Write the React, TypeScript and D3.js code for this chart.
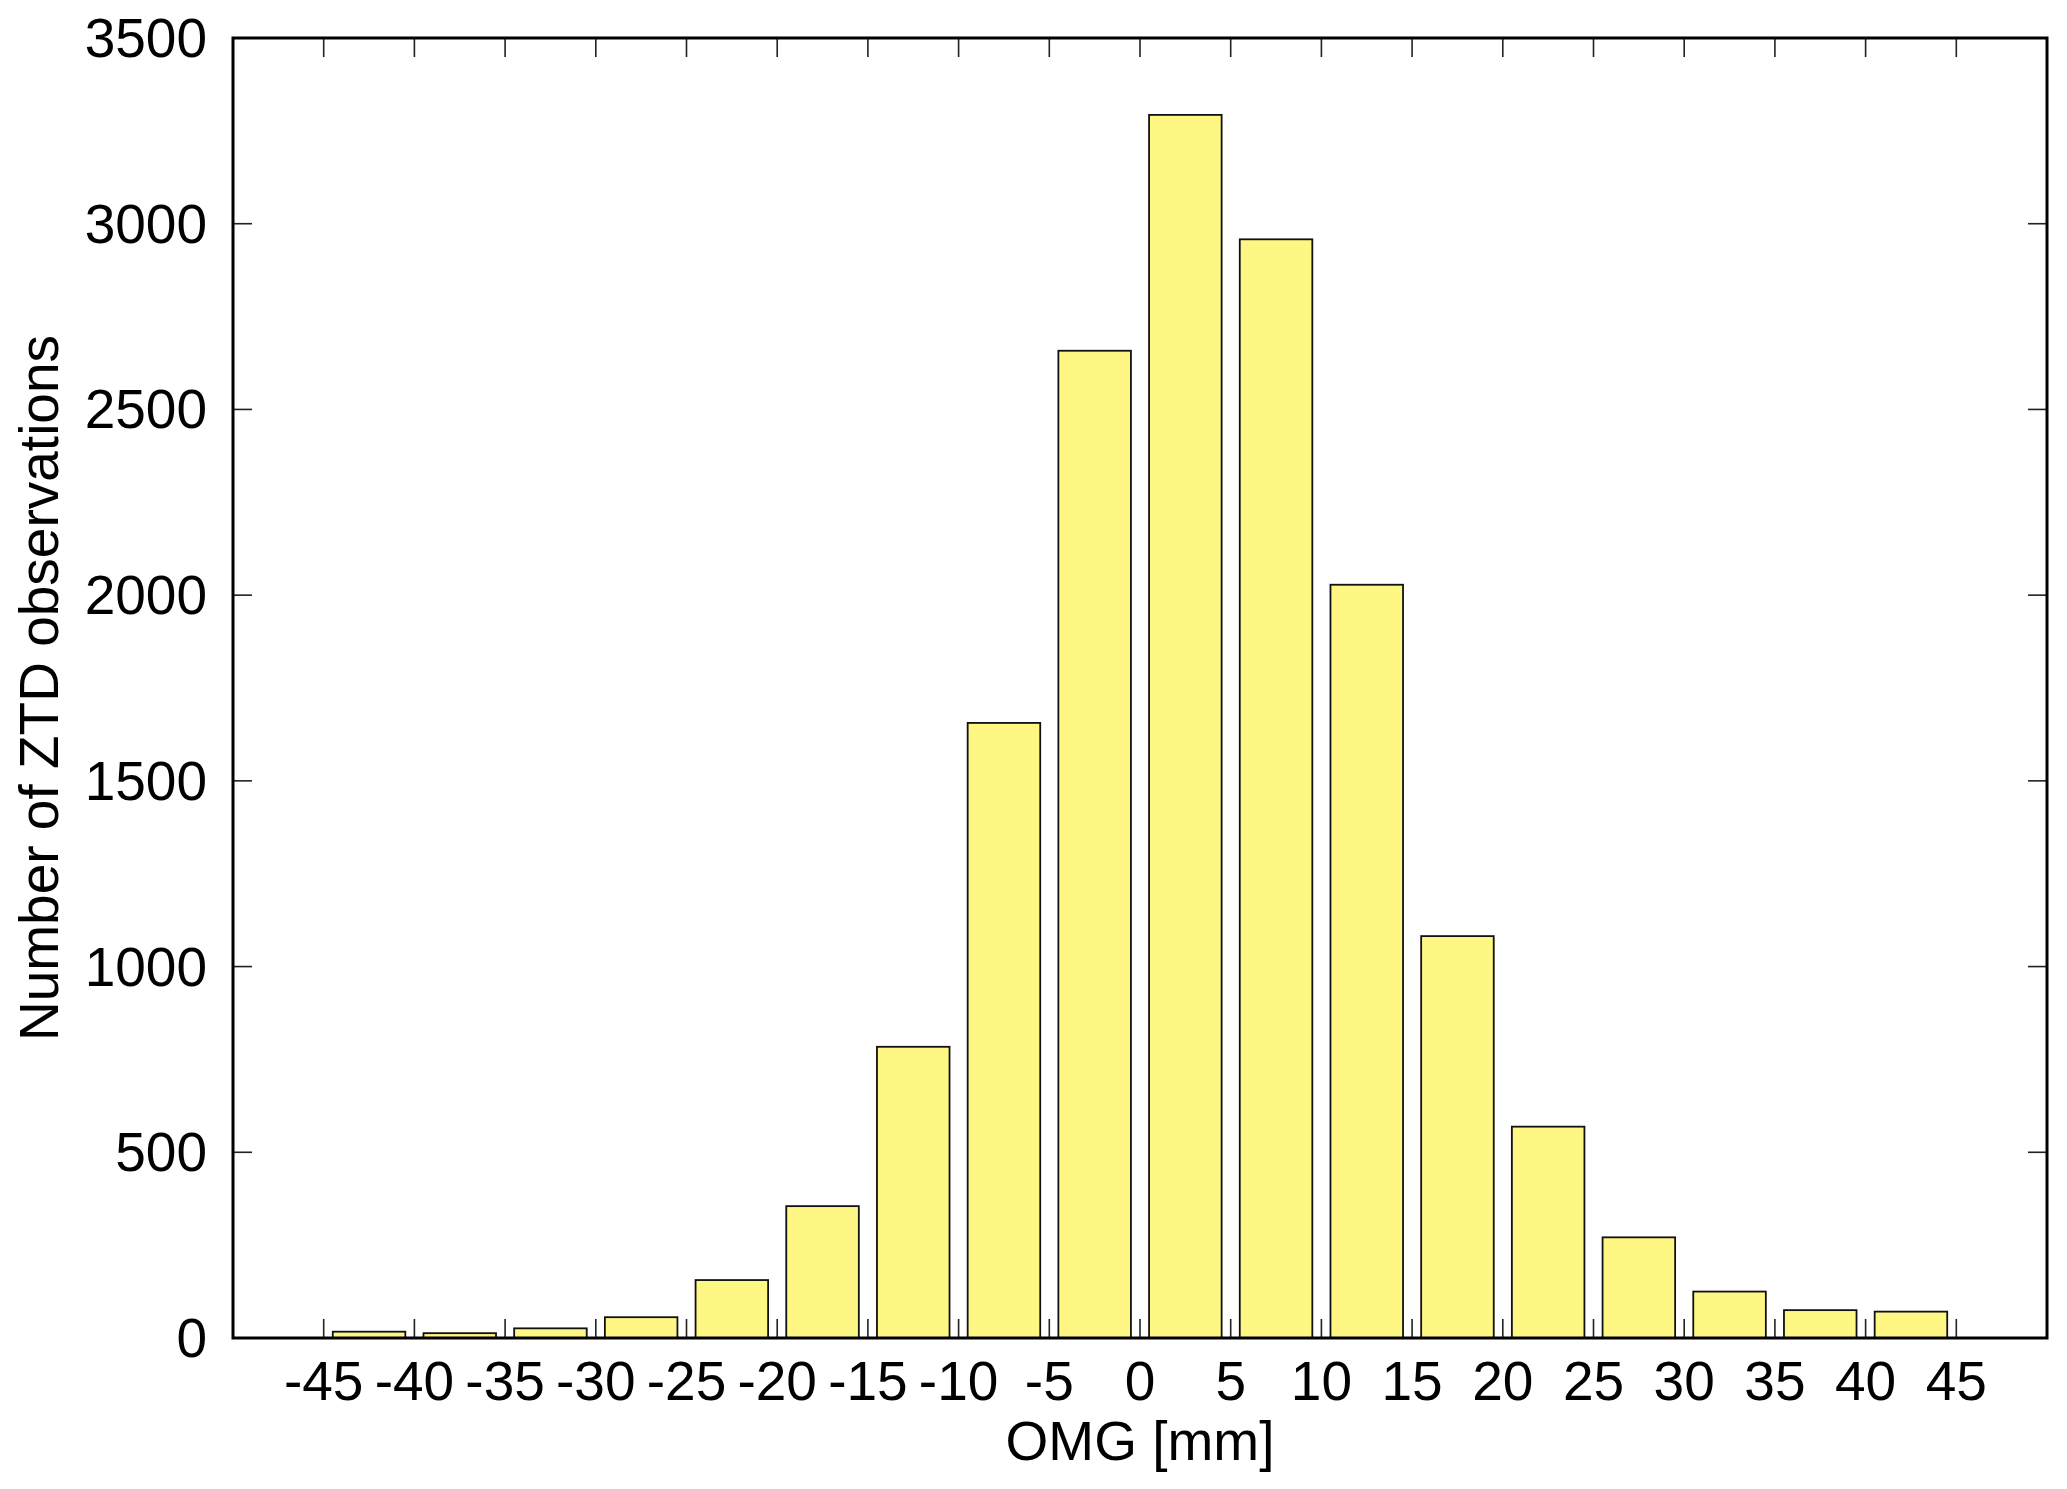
import React from "react";
import * as d3 from "d3";

const binStarts = [-45, -40, -35, -30, -25, -20, -15, -10, -5, 0, 5, 10, 15, 20, 25, 30, 35, 40];
const counts = [17, 13, 26, 56, 156, 355, 784, 1656, 2658, 3293, 2958, 2028, 1082, 569, 271, 125, 75, 71];
const binWidth = 5;
const xTickValues = [-45, -40, -35, -30, -25, -20, -15, -10, -5, 0, 5, 10, 15, 20, 25, 30, 35, 40, 45];
const yTickValues = [0, 500, 1000, 1500, 2000, 2500, 3000, 3500];
const xTitle = "OMG [mm]";
const yTitle = "Number of ZTD observations";

const W = 2067;
const H = 1489;
const M = { left: 233, right: 2047, top: 38, bottom: 1338 };
const FONT = "'Liberation Sans', Arial, Helvetica, sans-serif";
const FS = 55;

export default function App() {
  const x = d3.scaleLinear().domain([-50, 50]).range([M.left, M.right]);
  const y = d3.scaleLinear().domain([0, 3500]).range([M.bottom, M.top]);
  const tickLen = 19;
  const barFrac = 0.8;

  return (
    <svg
      width={W}
      height={H}
      style={{ position: "absolute", left: 0, top: 0, background: "#fff" }}
      fontFamily={FONT}
    >
      <rect x={0} y={0} width={W} height={H} fill="#fff" />
      {/* bars */}
      {binStarts.map((b, i) => {
        const x0 = x(b);
        const x1 = x(b + binWidth);
        const w = (x1 - x0) * barFrac;
        const bx = x0 + ((x1 - x0) - w) / 2;
        return (
          <rect
            key={b}
            x={bx}
            y={y(counts[i])}
            width={w}
            height={y(0) - y(counts[i])}
            fill="#fff783"
            stroke="#111"
            strokeWidth={1.8}
          />
        );
      })}
      {/* x ticks (bottom and top, inward) */}
      {xTickValues.map((t) => (
        <g key={"xt" + t}>
          <line x1={x(t)} x2={x(t)} y1={M.bottom} y2={M.bottom - tickLen} stroke="#222" strokeWidth={1.6} />
          <line x1={x(t)} x2={x(t)} y1={M.top} y2={M.top + tickLen} stroke="#222" strokeWidth={1.6} />
          <text x={x(t)} y={M.bottom + 62} fontSize={FS} textAnchor="middle" fill="#000">
            {t}
          </text>
        </g>
      ))}
      {/* y ticks (left and right, inward) */}
      {yTickValues.map((t) => (
        <g key={"yt" + t}>
          <line x1={M.left} x2={M.left + tickLen} y1={y(t)} y2={y(t)} stroke="#222" strokeWidth={1.6} />
          <line x1={M.right} x2={M.right - tickLen} y1={y(t)} y2={y(t)} stroke="#222" strokeWidth={1.6} />
          <text x={M.left - 26} y={y(t) + 19} fontSize={FS} textAnchor="end" fill="#000">
            {t}
          </text>
        </g>
      ))}
      {/* frame */}
      <rect
        x={M.left}
        y={M.top}
        width={M.right - M.left}
        height={M.bottom - M.top}
        fill="none"
        stroke="#000"
        strokeWidth={3}
      />
      {/* titles */}
      <text x={(M.left + M.right) / 2} y={1460} fontSize={FS} textAnchor="middle" fill="#000">
        {xTitle}
      </text>
      <text
        transform={`translate(58, ${(M.top + M.bottom) / 2}) rotate(-90)`}
        fontSize={FS}
        textAnchor="middle"
        fill="#000"
      >
        {yTitle}
      </text>
    </svg>
  );
}
